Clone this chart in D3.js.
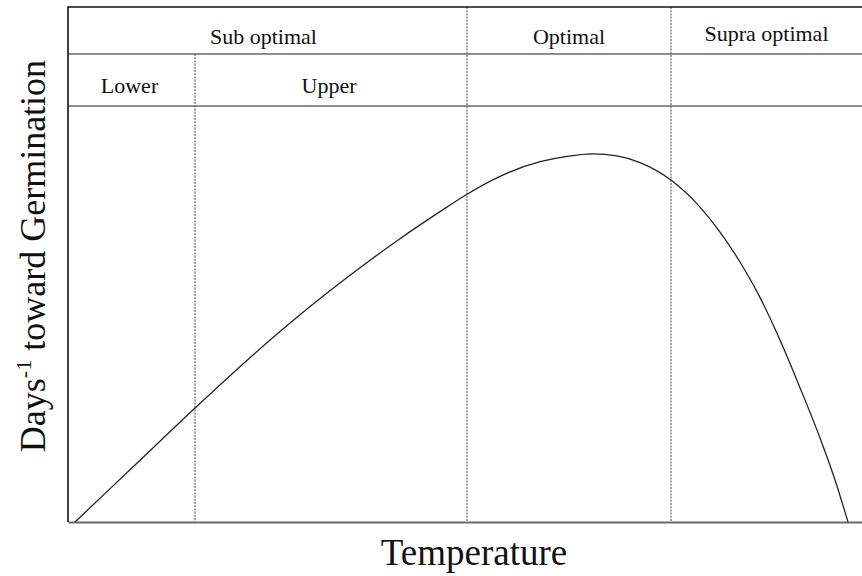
<!DOCTYPE html>
<html>
<head>
<meta charset="utf-8">
<script src="https://cdn.jsdelivr.net/npm/d3@7"></script>
<style>
  html, body { margin: 0; padding: 0; background: #fff; }
  svg { display: block; font-family: "Liberation Serif", "Times New Roman", serif; }
</style>
</head>
<body>
<svg id="chart" width="862" height="576"></svg>
<script>
// ---- data (temperature in arbitrary units 0-100, rate relative 0-1) ----
const temperature = [0.88, 8.44, 16.0, 22.92, 29.22, 35.52, 41.81, 46.85, 50.25, 54.41, 59.45, 62.85, 66.12, 69.14, 72.04, 75.94, 79.60, 82.12, 84.63, 87.15, 89.67, 92.19, 94.71, 96.60, 98.24];
const rate = [0, 0.137, 0.274, 0.395, 0.498, 0.593, 0.681, 0.746, 0.788, 0.831, 0.866, 0.879, 0.885, 0.880, 0.864, 0.822, 0.757, 0.697, 0.625, 0.540, 0.4375, 0.323, 0.202, 0.101, 0];

// zone boundaries (temperature units)
const lowerUpperBoundary = 16.0;
const subOptBoundary = 50.25;
const optSupraBoundary = 75.94;

// header labels
const topRowLabels = ["Sub optimal", "Optimal", "Supra optimal"];
const topRowStarts = [0, subOptBoundary, optSupraBoundary];
const topRowEnds = [subOptBoundary, optSupraBoundary, 100];
const subRowLabels = ["Lower", "Upper"];
const subRowStarts = [0, lowerUpperBoundary];
const subRowEnds = [lowerUpperBoundary, subOptBoundary];

const xLabel = "Temperature";
const yLabelMain = "Days";
const yLabelSup = "-1";
const yLabelRest = " toward Germination";

// ---- layout ----
const svg = d3.select("#chart");
const left = 68, right = 862, bottom = 522, plotTop = 106;
const headerTop = 7, headerMid = 54;

const x = d3.scaleLinear().domain([0, 100]).range([left, right]);
const y = d3.scaleLinear().domain([0, 1]).range([bottom, plotTop]);

const pts = temperature.map((t, i) => [t, rate[i]]);

// dotted vertical dividers
const dividers = [
  { t: lowerUpperBoundary, y0: headerMid },
  { t: subOptBoundary, y0: headerTop },
  { t: optSupraBoundary, y0: headerTop }
];
svg.selectAll("line.div").data(dividers).enter().append("line")
  .attr("class", "div")
  .attr("x1", d => x(d.t)).attr("x2", d => x(d.t))
  .attr("y1", d => d.y0).attr("y2", bottom)
  .attr("stroke", "#8a8a8a").attr("stroke-width", 1.6)
  .attr("stroke-dasharray", "2,1.2");

// horizontal header lines
svg.append("line").attr("x1", left).attr("x2", right).attr("y1", headerTop).attr("y2", headerTop)
  .attr("stroke", "#111").attr("stroke-width", 1.6);
svg.append("line").attr("x1", left).attr("x2", right).attr("y1", headerMid).attr("y2", headerMid)
  .attr("stroke", "#6a6a6a").attr("stroke-width", 1.6);
svg.append("line").attr("x1", left).attr("x2", right).attr("y1", y(1)).attr("y2", y(1))
  .attr("stroke", "#6a6a6a").attr("stroke-width", 1.6);

// axes
const xAxis = d3.axisBottom(x).tickValues([]).tickSizeOuter(0);
svg.append("g").attr("transform", `translate(0,${bottom})`).call(xAxis)
  .select(".domain").attr("stroke", "#6a6a6a").attr("stroke-width", 2);
svg.append("line").attr("x1", left).attr("x2", left).attr("y1", headerTop - 0.8).attr("y2", bottom)
  .attr("stroke", "#111").attr("stroke-width", 1.6);

// curve
const line = d3.line().x(d => x(d[0])).y(d => y(d[1])).curve(d3.curveMonotoneX);
svg.append("path").datum(pts).attr("d", line)
  .attr("fill", "none").attr("stroke", "#222").attr("stroke-width", 1.3);

// header labels
svg.selectAll("text.top").data(topRowLabels).enter().append("text")
  .attr("class", "top")
  .attr("x", (d, i) => (x(topRowStarts[i]) + x(topRowEnds[i])) / 2 - (i === 0 ? 4 : 0))
  .attr("y", (d, i) => i === 2 ? 41 : 44)
  .attr("text-anchor", "middle").attr("font-size", 22).attr("fill", "#111")
  .text(d => d);
svg.selectAll("text.sub").data(subRowLabels).enter().append("text")
  .attr("class", "sub")
  .attr("x", (d, i) => (x(subRowStarts[i]) + x(subRowEnds[i])) / 2 - 2)
  .attr("y", 93)
  .attr("text-anchor", "middle").attr("font-size", 22).attr("fill", "#111")
  .text(d => d);

// axis titles
svg.append("text").attr("x", 474).attr("y", 565)
  .attr("text-anchor", "middle").attr("font-size", 37).attr("fill", "#111")
  .text(xLabel);

const yl = svg.append("text")
  .attr("transform", "translate(45,256) rotate(-90)")
  .attr("text-anchor", "middle").attr("font-size", 36).attr("fill", "#111");
yl.append("tspan").text(yLabelMain);
yl.append("tspan").attr("font-size", 22).attr("dy", -14).text(yLabelSup);
yl.append("tspan").attr("dy", 14).text(yLabelRest);
</script>
</body>
</html>
